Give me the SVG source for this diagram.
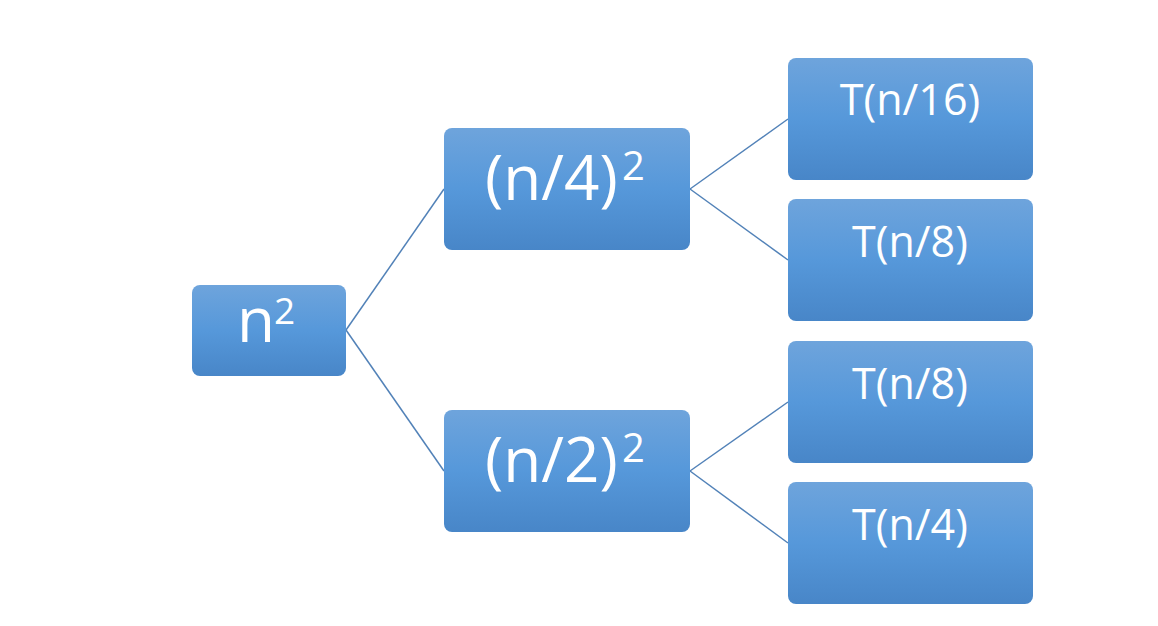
<svg xmlns="http://www.w3.org/2000/svg" width="1158" height="626" viewBox="0 0 1158 626">
  <defs>
    <linearGradient id="boxFill" x1="0" y1="0" x2="0" y2="1">
      <stop offset="0" stop-color="#6ea4dc"/>
      <stop offset="0.5" stop-color="#5698da"/>
      <stop offset="1" stop-color="#4886c8"/>
    </linearGradient>
  </defs>
  <style>
    .box { fill: url(#boxFill); }
    .lbl { font-family: "Open Sans", "Liberation Sans", sans-serif; fill: #ffffff; }
    .big { font-size: 62px; }
    .sup { font-size: 40px; }
    .leaf { font-size: 43px; text-anchor: middle; }
    .edge { stroke: #5282b8; stroke-width: 1.5; fill: none; }
  </style>
  <rect width="1158" height="626" fill="#ffffff"/>

  <g id="connectors">
    <line class="edge" x1="346" y1="330" x2="444" y2="189"/>
    <line class="edge" x1="346" y1="330" x2="444" y2="471"/>
    <line class="edge" x1="690" y1="189" x2="788" y2="119"/>
    <line class="edge" x1="690" y1="189" x2="788" y2="260"/>
    <line class="edge" x1="690" y1="471" x2="788" y2="402"/>
    <line class="edge" x1="690" y1="471" x2="788" y2="543"/>
  </g>

  <g id="root">
    <rect class="box" x="192" y="285" width="154" height="91" rx="8"/>
    <text class="lbl big" x="237" y="342">n</text>
    <text class="lbl" x="274" y="324" font-size="37">2</text>
  </g>

  <g id="quarter">
    <rect class="box" x="444" y="128" width="246" height="122" rx="8"/>
    <text class="lbl big" x="485" y="200">(n/4)</text>
    <text class="lbl sup" x="622" y="180">2</text>
  </g>

  <g id="half">
    <rect class="box" x="444" y="410" width="246" height="122" rx="8"/>
    <text class="lbl big" x="485" y="482">(n/2)</text>
    <text class="lbl sup" x="622" y="462">2</text>
  </g>

  <g id="leaf1">
    <rect class="box" x="788" y="58" width="245" height="122" rx="8"/>
    <text class="lbl leaf" x="910" y="115">T(n/16)</text>
  </g>

  <g id="leaf2">
    <rect class="box" x="788" y="199" width="245" height="122" rx="8"/>
    <text class="lbl leaf" x="910" y="257">T(n/8)</text>
  </g>

  <g id="leaf3">
    <rect class="box" x="788" y="341" width="245" height="122" rx="8"/>
    <text class="lbl leaf" x="910" y="399">T(n/8)</text>
  </g>

  <g id="leaf4">
    <rect class="box" x="788" y="482" width="245" height="122" rx="8"/>
    <text class="lbl leaf" x="910" y="540">T(n/4)</text>
  </g>
</svg>
